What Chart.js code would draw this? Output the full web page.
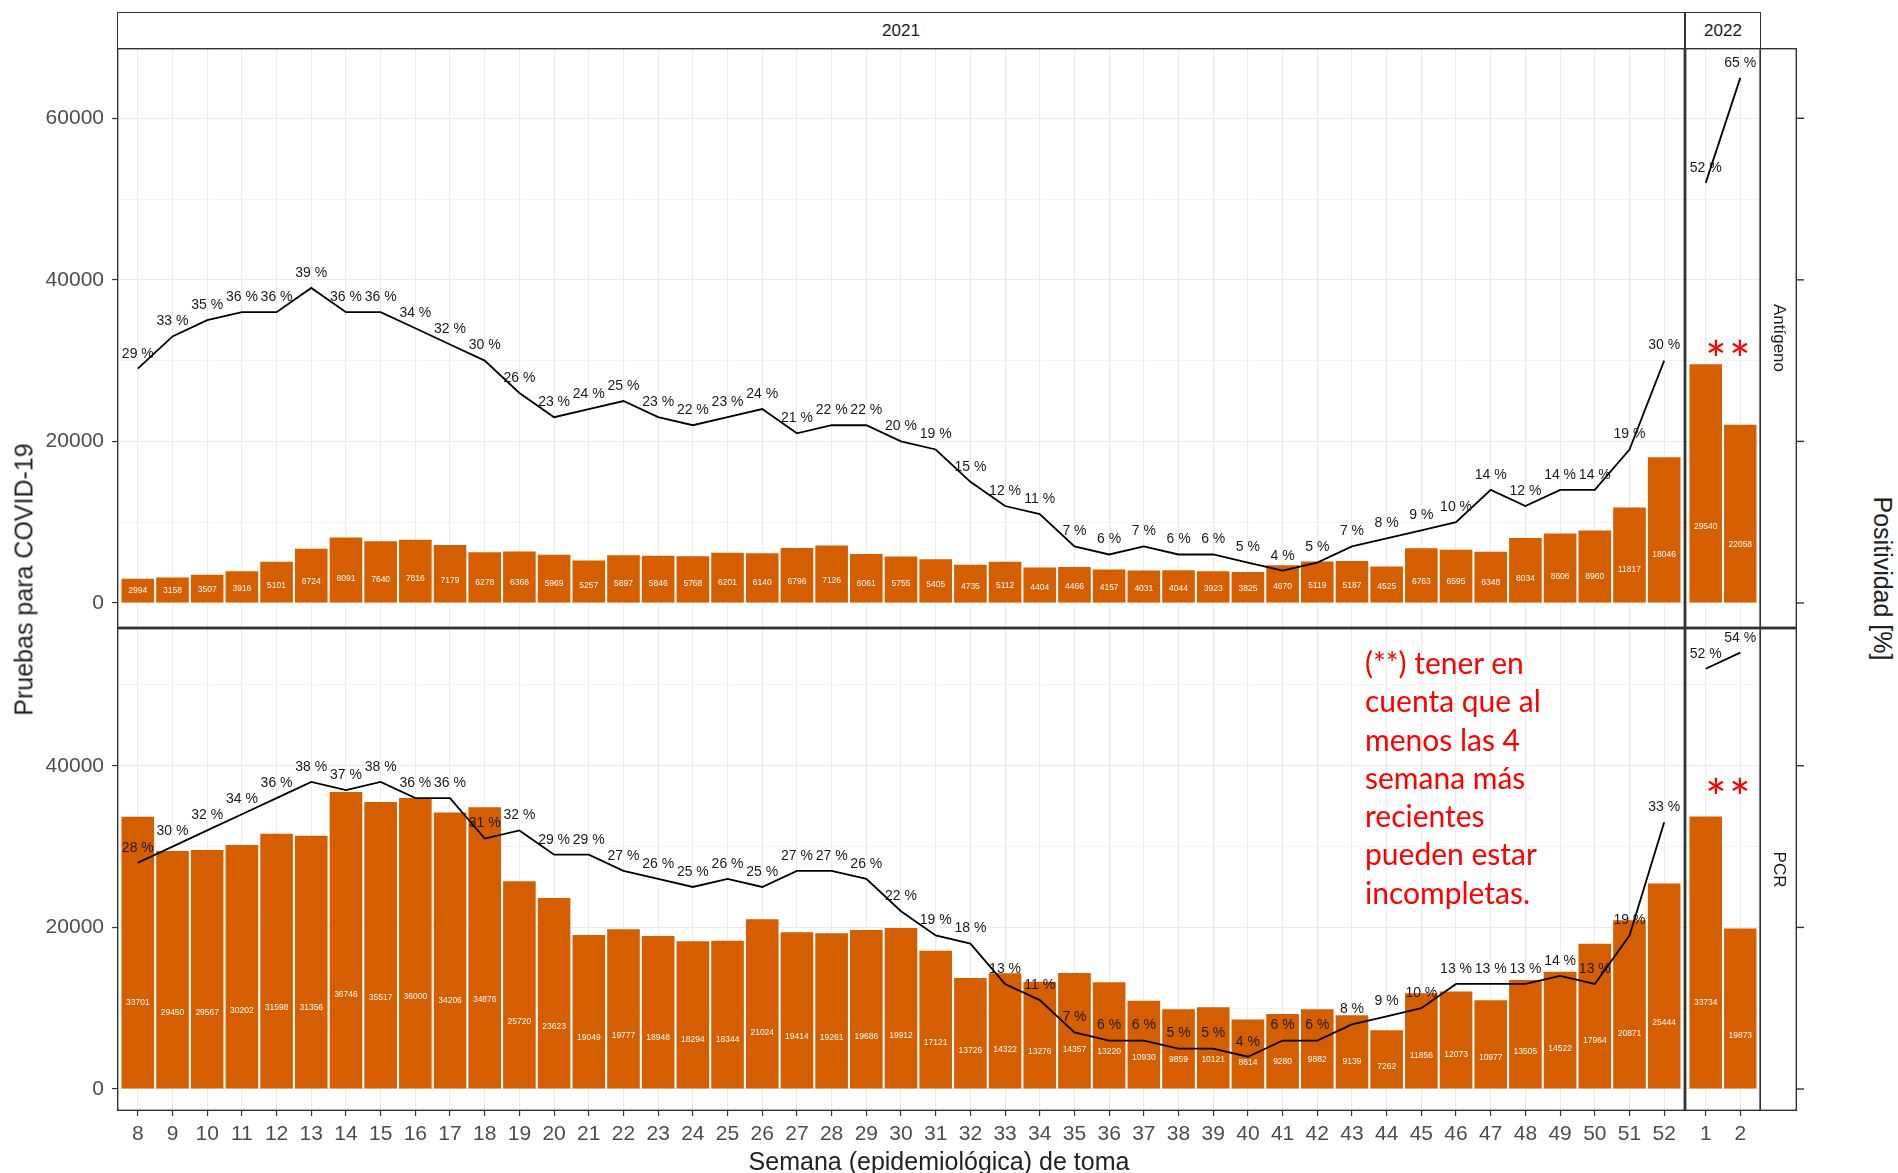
<!DOCTYPE html>
<html lang="es">
<head>
<meta charset="utf-8">
<title>Pruebas para COVID-19 y positividad</title>
<script src="https://cdn.jsdelivr.net/npm/chart.js@4.4.1/dist/chart.umd.min.js"></script>
<style>
  body { margin: 0; background: #fff; width: 1898px; height: 1173px; overflow: hidden; position: relative;
         font-family: "Liberation Sans", Arial, sans-serif; }
  canvas { position: absolute; }
  .strip { position: absolute; box-sizing: border-box; border: 1.4px solid #333; border-bottom: none;
           display: flex; align-items: center; justify-content: center; font-size: 17px; color: #1a1a1a; }
  .title { position: absolute; font-size: 25px; color: #222; white-space: nowrap; text-align: center; }
  .note { position: absolute; left: 1365px; top: 643px; font-family: Lato, "Open Sans", sans-serif;
          font-size: 30px; line-height: 38.3px; color: #ff0000; }
  .star { position: absolute; font-family: Lato, sans-serif; font-size: 50px; line-height: 50px; color: #ff0000;
          width: 30px; text-align: center; }
</style>
</head>
<body>

<canvas id="antigeno2021" width="1685" height="580" style="left:0;top:48px"></canvas>
<canvas id="antigeno2022" width="125" height="580" style="left:1685px;top:48px"></canvas>
<canvas id="pcr2021" width="1685" height="545" style="left:0;top:628px"></canvas>
<canvas id="pcr2022" width="125" height="545" style="left:1685px;top:628px"></canvas>

<div class="strip" style="left:117px;top:12px;width:1568px;height:36px">2021</div>
<div class="strip" style="left:1685px;top:12px;width:76px;height:36px">2022</div>

<div class="title" style="left:-126px;top:565px;width:300px;transform:rotate(-90deg)">Pruebas para COVID-19</div>
<div class="title" style="left:1732px;top:564px;width:300px;transform:rotate(90deg)">Positividad [%]</div>
<div class="title" style="left:639px;top:1147px;width:600px">Semana (epidemiológica) de toma</div>

<div class="star" style="left:1701px;top:334px">*</div>
<div class="star" style="left:1725px;top:334px">*</div>
<div class="star" style="left:1701px;top:772px">*</div>
<div class="star" style="left:1725px;top:772px">*</div>

<div class="note">(**) tener en<br>cuenta que al<br>menos las 4<br>semana más<br>recientes<br>pueden estar<br>incompletas.</div>

<script>
// weeks (x tick labels)
const weeks2021 = [8, 9, 10, 11, 12, 13, 14, 15, 16, 17, 18, 19, 20, 21, 22, 23, 24, 25, 26, 27, 28, 29, 30,
                   31, 32, 33, 34, 35, 36, 37, 38, 39, 40, 41, 42, 43, 44, 45, 46, 47, 48, 49, 50, 51, 52];
const weeks2022 = [1, 2];

// Antígeno: tests and positivity %
const antigeno2021 = [2994, 3158, 3507, 3916, 5101, 6724, 8091, 7640, 7816, 7179, 6278, 6366, 5969, 5257, 5897,
                      5846, 5768, 6201, 6140, 6796, 7126, 6061, 5755, 5405, 4735, 5112, 4404, 4466, 4157, 4031,
                      4044, 3923, 3825, 4670, 5119, 5187, 4525, 6763, 6595, 6348, 8034, 8606, 8960, 11817, 18046];
const antigenoPos2021 = [29, 33, 35, 36, 36, 39, 36, 36, 34, 32, 30, 26, 23, 24, 25, 23, 22, 23, 24, 21, 22, 22, 20,
                         19, 15, 12, 11, 7, 6, 7, 6, 6, 5, 4, 5, 7, 8, 9, 10, 14, 12, 14, 14, 19, 30];
const antigeno2022 = [29540, 22058];
const antigenoPos2022 = [52, 65];

// PCR: tests and positivity %
const pcr2021 = [33701, 29450, 29567, 30202, 31598, 31356, 36746, 35517, 36000, 34206, 34876, 25720, 23623, 19049,
                 19777, 18948, 18294, 18344, 21024, 19414, 19261, 19686, 19912, 17121, 13726, 14322, 13276, 14357,
                 13220, 10930, 9859, 10121, 8614, 9280, 9882, 9139, 7262, 11856, 12073, 10977, 13505, 14522, 17964,
                 20871, 25444];
const pcrPos2021 = [28, 30, 32, 34, 36, 38, 37, 38, 36, 36, 31, 32, 29, 29, 27, 26, 25, 26, 25, 27, 27, 26, 22, 19,
                    18, 13, 11, 7, 6, 6, 5, 5, 4, 6, 6, 8, 9, 10, 13, 13, 13, 14, 13, 19, 33];
const pcr2022 = [33734, 19873];
const pcrPos2022 = [52, 54];

// y axis ticks
const yGridTop = [0, 10000, 20000, 30000, 40000, 50000, 60000];
const yGridBottom = [0, 10000, 20000, 30000, 40000, 50000];
const yLabelled = [0, 20000, 40000, 60000];

const FONT = '"Liberation Sans", Arial, sans-serif';
const BAR_COLOR = '#D55E00';

// box round every panel
const panelBorder = {
    id: 'panelBorder',
    afterDraw(chart) {
        const a = chart.chartArea, c = chart.ctx;
        c.save();
        c.strokeStyle = '#333';
        c.lineWidth = 1.4;
        c.strokeRect(a.left + 0.7, a.top + 0.7, a.right - a.left - 1.4, a.bottom - a.top - 1.4);
        c.restore();
    }
};

// white counts inside the bars, black % above the line
const valueLabels = {
    id: 'valueLabels',
    afterDatasetsDraw(chart) {
        const c = chart.ctx;
        const yScale = chart.scales.y;
        c.save();
        c.textAlign = 'center';
        c.textBaseline = 'middle';
        chart.data.datasets.forEach((ds, i) => {
            const meta = chart.getDatasetMeta(i);
            meta.data.forEach((el, j) => {
                const v = ds.data[j].y;
                if (meta.type === 'bar') {
                    c.fillStyle = '#fff';
                    c.font = '8.5px ' + FONT;
                    c.fillText(String(v), el.x, yScale.getPixelForValue(v * 0.3) - 5);
                } else {
                    c.fillStyle = '#1a1a1a';
                    c.font = '14px ' + FONT;
                    c.fillText(v + ' %', el.x, el.y - 15);
                }
            });
        });
        c.restore();
    }
};

// facet strip on the right plus the secondary axis ticks
const sideStrip = {
    id: 'sideStrip',
    afterDraw(chart, args, opts) {
        const a = chart.chartArea, c = chart.ctx, y = chart.scales.y;
        c.save();
        c.strokeStyle = '#333';
        c.lineWidth = 1.4;
        c.strokeRect(a.right - 0.7, a.top + 0.7, 36, a.bottom - a.top - 1.4);
        yLabelled.forEach(v => {
            if (v > y.max) return;
            const py = y.getPixelForValue(v);
            c.beginPath();
            c.moveTo(a.right + 35.3, py);
            c.lineTo(a.right + 43, py);
            c.stroke();
        });
        c.translate(a.right + 17.5, (a.top + a.bottom) / 2);
        c.rotate(Math.PI / 2);
        c.fillStyle = '#1a1a1a';
        c.font = '17px ' + FONT;
        c.textAlign = 'center';
        c.textBaseline = 'middle';
        c.fillText(opts.label, 0, 0);
        c.restore();
    }
};

function makePanel(id, cfg) {
    const ctx = document.getElementById(id);
    const major = v => v % 20000 === 0;
    const plugins = [panelBorder, valueLabels];
    if (cfg.strip) plugins.push(sideStrip);

    return new Chart(ctx, {
        type: 'bar',
        data: {
            datasets: [{
                type: 'line',
                data: cfg.weeks.map((w, i) => ({ x: w, y: cfg.pos[i] })),
                yAxisID: 'yp',
                borderColor: '#000',
                borderWidth: 1.8,
                pointRadius: 0,
                tension: 0,
                order: 0
            }, {
                type: 'bar',
                data: cfg.weeks.map((w, i) => ({ x: w, y: cfg.counts[i] })),
                yAxisID: 'y',
                backgroundColor: BAR_COLOR,
                barPercentage: 0.94,
                categoryPercentage: 1,
                order: 1
            }]
        },
        options: {
            responsive: false,
            animation: false,
            devicePixelRatio: 1,
            layout: { padding: { right: cfg.strip ? 49 : 0 } },
            plugins: {
                legend: { display: false },
                tooltip: { enabled: false },
                sideStrip: { label: cfg.strip }
            },
            scales: {
                x: {
                    type: 'linear',
                    offset: false,
                    min: cfg.weeks[0] - 0.6,
                    max: cfg.weeks[cfg.weeks.length - 1] + 0.6,
                    afterBuildTicks: s => { s.ticks = cfg.weeks.map(v => ({ value: v })); },
                    afterFit: s => { s.height = cfg.showX ? 62 : 0; s.paddingLeft = 0; s.paddingRight = 0; },
                    ticks: {
                        display: cfg.showX, autoSkip: false, maxRotation: 0, padding: 6,
                        font: { family: FONT, size: 21 }, color: '#4d4d4d',
                        callback: v => String(v)
                    },
                    grid: { offset: false, color: '#ebebeb', lineWidth: 1.1, drawTicks: cfg.showX, tickLength: 5, tickColor: '#333', tickWidth: 1.2 },
                    border: { display: false }
                },
                y: {
                    min: cfg.range[0],
                    max: cfg.range[1],
                    afterBuildTicks: s => { s.ticks = cfg.yGrid.map(v => ({ value: v })); },
                    afterFit: s => { s.width = cfg.showY ? 117 : 0; s.paddingTop = 0; s.paddingBottom = 0; },
                    ticks: {
                        display: cfg.showY, autoSkip: false, padding: 8,
                        font: { family: FONT, size: 21 }, color: '#4d4d4d',
                        callback: v => yLabelled.includes(v) ? String(v) : ''
                    },
                    grid: {
                        color: '#ebebeb',
                        lineWidth: c => major(c.tick.value) ? 1.1 : 0.6,
                        drawTicks: cfg.showY,
                        tickLength: 5,
                        tickWidth: 1.2,
                        tickColor: c => major(c.tick.value) ? '#333' : 'rgba(0,0,0,0)'
                    },
                    border: { display: false }
                },
                // positivity (%) sits on the same vertical scale, 1 % = 1000 tests
                yp: { display: false, min: cfg.range[0] / 1000, max: cfg.range[1] / 1000 }
            }
        },
        plugins: plugins
    });
}

const TOP_RANGE = [-3100, 68700];
const BOTTOM_RANGE = [-2720, 57050];

document.addEventListener('DOMContentLoaded', function() {
    makePanel('antigeno2021', { weeks: weeks2021, counts: antigeno2021, pos: antigenoPos2021,
        range: TOP_RANGE, yGrid: yGridTop, showY: true, showX: false });
    makePanel('antigeno2022', { weeks: weeks2022, counts: antigeno2022, pos: antigenoPos2022,
        range: TOP_RANGE, yGrid: yGridTop, showY: false, showX: false, strip: 'Antígeno' });
    makePanel('pcr2021', { weeks: weeks2021, counts: pcr2021, pos: pcrPos2021,
        range: BOTTOM_RANGE, yGrid: yGridBottom, showY: true, showX: true });
    makePanel('pcr2022', { weeks: weeks2022, counts: pcr2022, pos: pcrPos2022,
        range: BOTTOM_RANGE, yGrid: yGridBottom, showY: false, showX: true, strip: 'PCR' });
});
</script>
</body>
</html>
